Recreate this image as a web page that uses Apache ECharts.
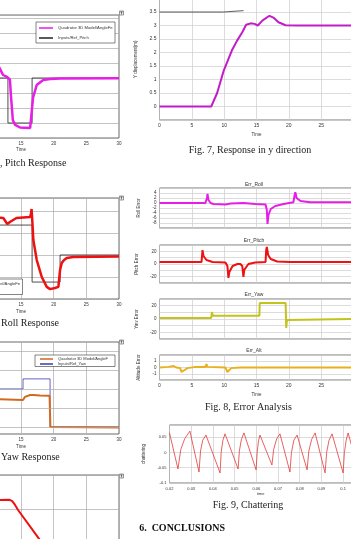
<!DOCTYPE html>
<html>
<head>
<meta charset="utf-8">
<script src="https://cdn.jsdelivr.net/npm/echarts@6/dist/echarts.min.js"></script>
<style>
  html, body { margin: 0; padding: 0; background: #fff; }
  #chart { width: 351px; height: 539px; }
</style>
</head>
<body>
<div id="chart"></div>
<script>
// ---- Fig. 6, pitch scope: [time, angle] ----
const pitchResp = [[11.3, 5.0], [11.8, 4.6], [12.25, 4.2], [12.86, 4.07], [13.0, 4.0], [13.3, 3.9], [13.5, 2.6], [13.75, 1.2], [14.1, 0.87], [14.85, 0.7], [16.4, 0.67], [16.68, 0.7], [16.85, 2.7], [17.4, 3.53], [18.4, 3.87], [19.45, 3.93], [21, 3.97], [30, 3.98]];
const pitchRef = [[11.3, 4], [13.0, 4], [13.0, 1], [16.7, 1], [16.7, 4], [30, 4]];

// ---- roll scope ----
const rollResp = [[11.5, 3.7], [11.79, 3.73], [12.3, 3.68], [12.9, 3.41], [13.3, 3.5], [14.3, 3.68], [16.4, 3.73], [16.55, 3.9], [16.62, 4.09], [16.74, 3.5], [16.89, 2.68], [17.41, 1.77], [18.18, 1.0], [18.94, 0.55], [19.45, 0.45], [20.2, 0.5], [20.72, 0.55], [20.9, 0.59], [20.98, 1.32], [21.24, 1.64], [21.6, 1.77], [22.0, 1.86], [23.0, 1.91], [30, 1.93]];
const rollRef = [[11.5, 3.36], [16.7, 3.36], [16.7, 0.77], [20.98, 0.77], [20.98, 2.0], [30, 2.0]];

// ---- yaw scope ----
const yawResp = [[11.5, 1.46], [15.3, 1.42], [15.6, 1.58], [16.4, 1.68], [16.6, 1.72], [16.9, 1.68], [17.9, 1.65], [19.37, 1.64], [19.5, 0], [30, -0.03]];
const yawRef = [[11.5, 2.0], [15.31, 2.0], [15.31, 2.53], [19.45, 2.53], [19.45, 0], [30, 0]];
const yawGridLines = [0, 1, 2, 3, 4];

// ---- last scope (cut at page bottom) ----
const lastResp = [[11.5, 2.26], [13.17, 2.27], [13.63, 2.24], [14.09, 2.12], [14.55, 1.97], [17.66, 1.15], [20.5, 0.4]];

// ---- Fig. 7, y displacement ----
const yResp = [[0, 0], [8.0, 0], [8.9, 0.49], [9.95, 1.34], [11.2, 2.08], [12.0, 2.44], [12.8, 2.75], [13.4, 3.03], [14.1, 3.08], [14.7, 3.06], [15.2, 3.0], [15.9, 3.18], [17.0, 3.36], [17.7, 3.28], [18.4, 3.12], [19.5, 3.01], [21.3, 3.0], [30, 3.0]];
const yTopLine = [[0, 3.5], [9.9, 3.5], [9.9, 3.55], [13.0, 3.55]];

// ---- Fig. 8, errors ----
const errRoll = [[0, 0], [7.1, 0], [7.34, 2], [7.42, 3.6], [7.57, 1.2], [7.9, 0], [8.35, -0.4], [10.2, -0.6], [11.0, -0.2], [11.3, -0.6], [13.0, 0], [13.3, -0.4], [14.8, -0.4], [16.4, -0.6], [16.6, -2.8], [16.7, -8.4], [16.85, -4.8], [17.2, -2.4], [17.9, -1.2], [19.2, -0.4], [20.7, 0.3], [20.9, 3.2], [21.0, 4.3], [21.2, 2], [21.8, 0.8], [23.3, 0.3], [30, 0.3]];
const errPitch = [[0, 3.2], [6.5, 3.2], [6.65, 22], [6.8, 12.6], [7.26, 6.3], [8.2, 3.2], [10.2, 2.4], [10.5, -3.2], [10.66, -22], [10.8, -12.6], [11.3, -3.2], [12.05, 0], [12.5, 0], [12.8, -3.2], [12.98, -20.5], [13.1, -9.5], [13.75, 0], [14.8, 2.4], [16.4, 3.2], [16.5, 22], [16.6, 26.9], [16.8, 14.2], [17.2, 7.9], [18.2, 3.9], [20.2, 3.2], [30, 3.2]];
const errYaw = [[0, 1.5], [8.0, 1.5], [8.1, 10.5], [8.25, 5], [15.45, 5], [15.5, 24], [19.5, 24], [19.55, 24], [19.6, -13.5], [19.7, -1.5], [19.8, 0], [30, 0]];
const errAlt = [[0, 0], [1.4, 0.1], [2.2, 0.24], [2.6, 0], [3.2, -0.1], [3.4, -0.7], [3.55, -0.9], [3.9, -0.4], [4.3, -0.1], [5.6, 0.1], [7.1, 0.1], [7.26, 0.56], [7.4, 0.1], [10.2, 0], [10.35, 0.24], [10.5, -0.72], [10.66, -0.4], [11.1, -0.1], [12.5, 0], [30, 0]];

// ---- Fig. 9, chattering: [time, value] ----
const chatter = [[0.0200, 0.064], [0.0239, -0.054], [0.0252, 0.010], [0.0270, 0.045], [0.0294, 0.070],
  [0.0336, -0.064], [0.0343, 0.005], [0.0353, 0.040], [0.0368, 0.057],
  [0.0433, -0.067], [0.0438, 0.0], [0.0446, 0.040], [0.0456, 0.061],
  [0.0516, -0.054], [0.0522, 0.005], [0.0531, 0.042], [0.0543, 0.064],
  [0.0599, -0.057], [0.0604, 0.0], [0.0610, 0.038], [0.0617, 0.057],
  [0.0672, -0.041], [0.0680, 0.010], [0.0694, 0.045], [0.0709, 0.061],
  [0.0755, -0.064], [0.0762, 0.0], [0.0773, 0.040], [0.0788, 0.057],
  [0.0834, -0.057], [0.0842, 0.005], [0.0855, 0.043], [0.0871, 0.064],
  [0.0917, -0.067], [0.0924, 0.0], [0.0935, 0.040], [0.0949, 0.061],
  [0.1000, -0.067], [0.1006, 0.0], [0.1014, 0.040], [0.1023, 0.064], [0.1040, 0.020]];

const respName = 'Quadrotor 3D Model/AngleFeedback';

const chart = echarts.init(document.getElementById('chart'));

// outerBoundsMode none: the scopes on the left are cut by the page edge
const scopeBorder = { show: true, borderColor: '#444', borderWidth: 0.8, backgroundColor: 'transparent', outerBoundsMode: 'none', containLabel: false };
const plotBorder = { show: true, borderColor: '#555', borderWidth: 0.8, backgroundColor: 'transparent', outerBoundsMode: 'none', containLabel: false };
const scopeSplit = { show: true, lineStyle: { color: '#aaa', width: 0.7 } };
const plotSplit = { show: true, lineStyle: { color: '#cdcdcd', width: 0.7 } };
const small = { fontSize: 4.5, color: '#333', fontFamily: 'Liberation Sans' };

const grids = [
  Object.assign({ left: -77, top: 15, width: 196, height: 123 }, scopeBorder),   // 0 pitch
  Object.assign({ left: -77, top: 198, width: 196, height: 101 }, scopeBorder),  // 1 roll
  Object.assign({ left: -77, top: 342, width: 196, height: 92 }, scopeBorder),   // 2 yaw
  Object.assign({ left: -77, top: 475, width: 196, height: 102 }, scopeBorder),  // 3 last
  Object.assign({ left: 159.5, top: -1.5, width: 194, height: 121.5 }, plotBorder), // 4 fig7
  Object.assign({ left: 159.5, top: 188, width: 194, height: 40 }, plotBorder),  // 5 err roll
  Object.assign({ left: 159.5, top: 245, width: 194, height: 38 }, plotBorder),  // 6 err pitch
  Object.assign({ left: 159.5, top: 299, width: 194, height: 40 }, plotBorder),  // 7 err yaw
  Object.assign({ left: 159.5, top: 355, width: 194, height: 25 }, plotBorder),  // 8 err alt
  Object.assign({ left: 169.5, top: 425, width: 182.3, height: 58 }, plotBorder) // 9 fig9
];

function timeAxis(gi, opts) {
  return Object.assign({
    type: 'value', gridIndex: gi, min: 0, max: 30, interval: 5,
    axisLine: { show: false }, axisTick: { show: false },
    splitLine: plotSplit,
    axisLabel: Object.assign({ show: false, margin: 3.5 }, small),
    nameLocation: 'middle', nameGap: 10.5, nameTextStyle: small
  }, opts);
}
function valAxis(gi, opts) {
  return Object.assign({
    type: 'value', gridIndex: gi,
    axisLine: { show: false }, axisTick: { show: false },
    splitLine: plotSplit,
    axisLabel: Object.assign({ show: false, margin: 3 }, small),
    nameLocation: 'middle', nameRotate: 90, nameGap: 15, nameTextStyle: small
  }, opts);
}
const only = list => v => (list.indexOf(+v.toFixed(4)) >= 0 ? String(+v.toFixed(4)) : '');

const xAxis = [
  timeAxis(0, { splitLine: { show: false }, axisLabel: Object.assign({ show: true, margin: 3.5 }, small), name: 'Time', nameGap: 9.5 }),
  timeAxis(1, { splitLine: scopeSplit, axisLabel: Object.assign({ show: true, margin: 3.5 }, small), name: 'Time' }),
  timeAxis(2, { splitLine: scopeSplit, axisLabel: Object.assign({ show: true, margin: 3.5 }, small), name: 'Time' }),
  timeAxis(3, { splitLine: scopeSplit }),
  timeAxis(4, { axisLabel: Object.assign({ show: true, margin: 3.5 }, small, { fontSize: 5 }), name: 'Time', nameGap: 12 }),
  timeAxis(5, {}),
  timeAxis(6, {}),
  timeAxis(7, {}),
  timeAxis(8, { axisLabel: Object.assign({ show: true, margin: 3.5 }, small, { fontSize: 5 }), name: 'Time', nameGap: 12 }),
  { type: 'value', gridIndex: 9, min: 0.02, max: 0.104, interval: 0.01,
    axisLine: { show: false }, axisTick: { show: false }, splitLine: plotSplit,
    axisLabel: Object.assign({ show: true, margin: 3.5, formatter: v => (v > 0.1001 ? '' : String(+v.toFixed(3))) }, small, { fontSize: 4 }),
    name: 'time', nameLocation: 'middle', nameGap: 8.5, nameTextStyle: Object.assign({}, small, { fontSize: 4 }) }
];

const yAxis = [
  valAxis(0, { min: 0, max: 8.2, interval: 1, splitLine: scopeSplit }),
  valAxis(1, { min: 0, max: 4.59, interval: 1, splitLine: scopeSplit }),
  valAxis(2, { min: -0.37, max: 4.47, splitLine: { show: false } }),
  valAxis(3, { min: 0, max: 3, interval: 1, splitLine: scopeSplit }),
  valAxis(4, { min: -0.5, max: 4, interval: 0.5, name: 'Y displacement(m)', nameGap: 13,
    axisLabel: Object.assign({ show: true, margin: 3, formatter: only([0, 0.5, 1, 1.5, 2, 2.5, 3, 3.5]) }, small, { fontSize: 5 }) }),
  valAxis(5, { min: -10, max: 6, interval: 2, name: 'Roll Error',
    axisLabel: Object.assign({ show: true, margin: 3, formatter: only([-8, -6, -4, -2, 0, 2, 4]) }, small) }),
  valAxis(6, { min: -30, max: 30, interval: 10, name: 'Pitch Error',
    axisLabel: Object.assign({ show: true, margin: 3, formatter: only([-20, 0, 20]) }, small) }),
  valAxis(7, { min: -30, max: 30, interval: 10, name: 'Yaw Error',
    axisLabel: Object.assign({ show: true, margin: 3, formatter: only([-20, 0, 20]) }, small) }),
  valAxis(8, { min: -2, max: 2, interval: 1, name: 'Altitude Error',
    axisLabel: Object.assign({ show: true, margin: 3, formatter: only([-1, 0, 1]) }, small) }),
  valAxis(9, { min: -0.1, max: 0.09, interval: 0.05, name: 'chattering', nameGap: 16,
    axisLabel: Object.assign({ show: true, margin: 3, formatter: only([-0.1, -0.05, 0, 0.05]) }, small, { fontSize: 4 }) })
];

function line(name, data, gi, color, width, z) {
  return {
    name, type: 'line', data, xAxisIndex: gi, yAxisIndex: gi,
    showSymbol: false, symbol: 'none', silent: true, z: z || 3,
    itemStyle: { color }, lineStyle: { color, width }
  };
}

const yawRefSeries = line('Inputs/Ref_Yaw', yawRef, 2, '#3b3bb4', 0.8, 2);
yawRefSeries.markLine = {
  silent: true, symbol: ['none', 'none'], label: { show: false },
  lineStyle: { color: '#aaa', width: 0.7, type: 'solid' },
  data: yawGridLines.map(v => ({ yAxis: v }))
};

const series = [
  line('Inputs/Ref_Pitch', pitchRef, 0, '#222', 0.8, 2),
  line(respName + ':1', pitchResp, 0, '#e61ee6', 2.5),
  line('Inputs/Ref_Roll', rollRef, 1, '#222', 0.8, 2),
  line(respName + ':2', rollResp, 1, '#ee1111', 2.5),
  yawRefSeries,
  line(respName + ':3', yawResp, 2, '#d2691e', 2),
  line('last', lastResp, 3, '#ee1111', 2),
  line('yTop', yTopLine, 4, '#333', 0.8, 2),
  line('y', yResp, 4, '#c21cc8', 2),
  line('Err_Roll', errRoll, 5, '#e61ee6', 2),
  line('Err_Pitch', errPitch, 6, '#ee1111', 2),
  line('Err_Yaw', errYaw, 7, '#c3c31c', 2),
  line('Err_Alt', errAlt, 8, '#eab020', 2),
  line('chattering', chatter, 9, '#e23a3a', 0.8)
];

const legendText = { fontSize: 4.2, color: '#333', fontFamily: 'Liberation Sans', width: 56, overflow: 'truncate', ellipsis: '' };
const legend = [
  { data: [respName + ':1', 'Inputs/Ref_Pitch'], left: 36, top: 22, orient: 'vertical',
    icon: 'rect', itemWidth: 14, itemHeight: 1.5, itemGap: 5, itemTextGap: 2.5,
    padding: [3.5, 1, 2.5, 3], backgroundColor: '#fff', borderColor: '#333', borderWidth: 0.6,
    textStyle: Object.assign({ lineHeight: 5 }, legendText), selectedMode: false },
  { data: [respName + ':2', 'Inputs/Ref_Roll'], left: -56.5, top: 279, orient: 'vertical',
    icon: 'rect', itemWidth: 14, itemHeight: 1.5, itemGap: 1.5, itemTextGap: 2.5,
    padding: [3, 1, 2, 3], backgroundColor: '#fff', borderColor: '#333', borderWidth: 0.6,
    textStyle: Object.assign({ lineHeight: 4.5 }, legendText), selectedMode: false },
  { data: [respName + ':3', 'Inputs/Ref_Yaw'], left: 35, top: 355, orient: 'vertical',
    icon: 'rect', itemWidth: 13, itemHeight: 1.5, itemGap: 1, itemTextGap: 2,
    padding: [2, 1, 0.5, 5], backgroundColor: '#fff', borderColor: '#333', borderWidth: 0.6,
    textStyle: Object.assign({ lineHeight: 4 }, legendText, { fontSize: 4 }), selectedMode: false }
];

function caption(text, x, y, align) {
  return { type: 'text', x, y, silent: true,
    style: { text, fill: '#222', fontSize: 10, fontFamily: 'Liberation Serif', align, verticalAlign: 'middle' } };
}
function plotTitle(text, y) {
  return { type: 'text', x: 254, y, silent: true,
    style: { text, fill: '#333', fontSize: 5, fontFamily: 'Liberation Sans', align: 'center', verticalAlign: 'middle' } };
}
function scopeIcon(y) {
  return { type: 'group', x: 119.5, y, silent: true, children: [
    { type: 'rect', shape: { x: 0, y: 0, width: 4, height: 4 }, style: { fill: '#f2f2f2', stroke: '#555', lineWidth: 0.6 } },
    { type: 'line', shape: { x1: 2, y1: 0.8, x2: 2, y2: 3.4 }, style: { stroke: '#333', lineWidth: 0.6 } },
    { type: 'line', shape: { x1: 0.8, y1: 1, x2: 3.2, y2: 1 }, style: { stroke: '#333', lineWidth: 0.6 } }
  ] };
}

const graphic = [
  caption(', Pitch Response', 0, 163, 'left'),
  caption('Roll Response', 1, 323, 'left'),
  caption('Yaw Response', 1, 457.5, 'left'),
  caption('Fig. 7, Response in y direction', 250, 150, 'center'),
  caption('Fig. 8, Error Analysis', 248.5, 407, 'center'),
  caption('Fig. 9, Chattering', 248, 505, 'center'),
  { type: 'text', x: 225, y: 528, silent: true,
    style: { text: '6.  CONCLUSIONS', fill: '#111', fontSize: 10, fontWeight: 'bold', fontFamily: 'Liberation Serif', align: 'right', verticalAlign: 'middle' } },
  plotTitle('Err_Roll', 184.5),
  plotTitle('Err_Pitch', 240.5),
  plotTitle('Err_Yaw', 294.5),
  plotTitle('Err_Alt', 350.5),
  scopeIcon(11), scopeIcon(196), scopeIcon(340), scopeIcon(474)
];

chart.setOption({
  animation: false,
  backgroundColor: '#fff',
  grid: grids,
  xAxis,
  yAxis,
  legend,
  series,
  graphic
});
</script>
</body>
</html>
